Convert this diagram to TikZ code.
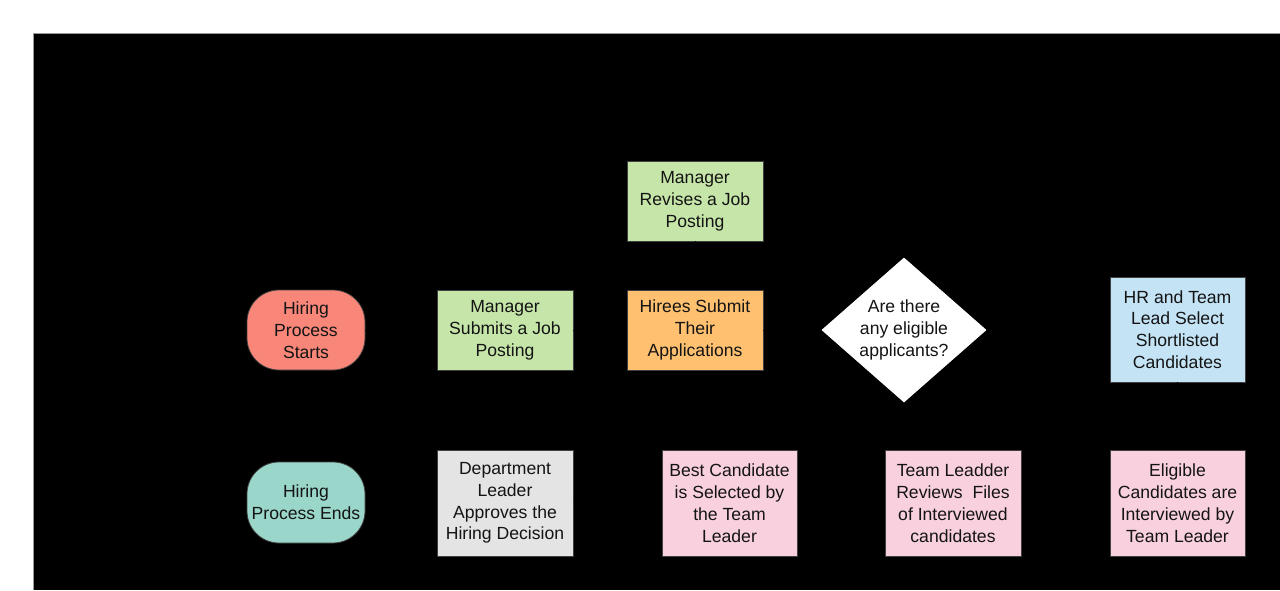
\documentclass[tikz,border=0pt]{standalone}
\usepackage{fontspec}
\setmainfont{Liberation Sans}
\usetikzlibrary{shapes.geometric,arrows.meta}
\definecolor{cstart}{HTML}{F8877A}
\definecolor{cend}{HTML}{9AD6C9}
\definecolor{cgreen}{HTML}{C6E6A9}
\definecolor{corange}{HTML}{FFC070}
\definecolor{cblue}{HTML}{C4E4F6}
\definecolor{cgrey}{HTML}{E4E4E4}
\definecolor{cpink}{HTML}{F8D0DE}
\tikzset{
  base/.style={draw=black!75, line width=0.8pt, align=center, inner sep=0pt,
    font=\fontsize{17.6}{21.8}\selectfont, text=black!92},
  box/.style={base, minimum width=136pt},
  term/.style={base, rounded corners=32pt, minimum width=118pt, minimum height=80pt},
  dec/.style={base, diamond, fill=white, draw=white, minimum width=164pt, minimum height=144pt, aspect=1.14},
  conn/.style={draw=black, line width=1pt, -{Stealth[length=8pt]}}
}
\begin{document}
\begin{tikzpicture}[x=1pt,y=-1pt]
\useasboundingbox (0,0) rectangle (1280,590);
\fill[white] (0,0) rectangle (1280,590);
\fill[black] (33,33) rectangle (1280,590);
\draw[black!40, line width=0.8pt] (33,590) -- (33,33) -- (1280,33);

\node[term, fill=cstart] (start) at (306,330) {Hiring\\Process\\Starts};
\node[box, fill=cgreen, minimum height=80pt] (submit) at (505,330) {Manager\\Submits a Job\\Posting};
\node[box, fill=cgreen, minimum height=80pt] (revise) at (695,201) {Manager\\Revises a Job\\Posting};
\node[box, fill=corange, minimum height=80pt] (apply) at (695,330) {Hirees Submit\\Their\\Applications};
\node[dec] (elig) at (904,330) {Are there\\any eligible\\applicants?};
\node[box, fill=cblue, minimum width=135pt, minimum height=105pt] (short) at (1177.5,329.5) {HR and Team\\Lead Select\\Shortlisted\\Candidates};

\node[term, fill=cend, minimum height=81pt] (ends) at (306,502.5) {Hiring\\Process Ends};
\node[box, fill=cgrey, minimum height=106pt] (dept) at (505,503) {Department\\Leader\\Approves the\\Hiring Decision};
\node[box, fill=cpink, minimum width=135pt, minimum height=106pt] (best) at (729.5,503) {Best Candidate\\is Selected by\\the Team\\Leader};
\node[box, fill=cpink, minimum height=106pt] (review) at (953,503) {Team Leadder\\Reviews\ \ Files\\of Interviewed\\candidates};
\node[box, fill=cpink, minimum width=135pt, minimum height=106pt] (interv) at (1177.5,503) {Eligible\\Candidates are\\Interviewed by\\Team Leader};

\draw[conn] (start) -- (submit);
\draw[conn] (submit) -- (apply);
\draw[conn] (apply) -- (elig);
\draw[conn] (elig) -- (short);
\draw[conn] (elig.north) |- (revise);
\draw[conn] (revise) -- (apply);
\draw[conn] (short) -- (interv);
\draw[conn] (interv) -- (review);
\draw[conn] (review) -- (best);
\draw[conn] (best) -- (dept);
\draw[conn] (dept) -- (ends);
\end{tikzpicture}
\end{document}
